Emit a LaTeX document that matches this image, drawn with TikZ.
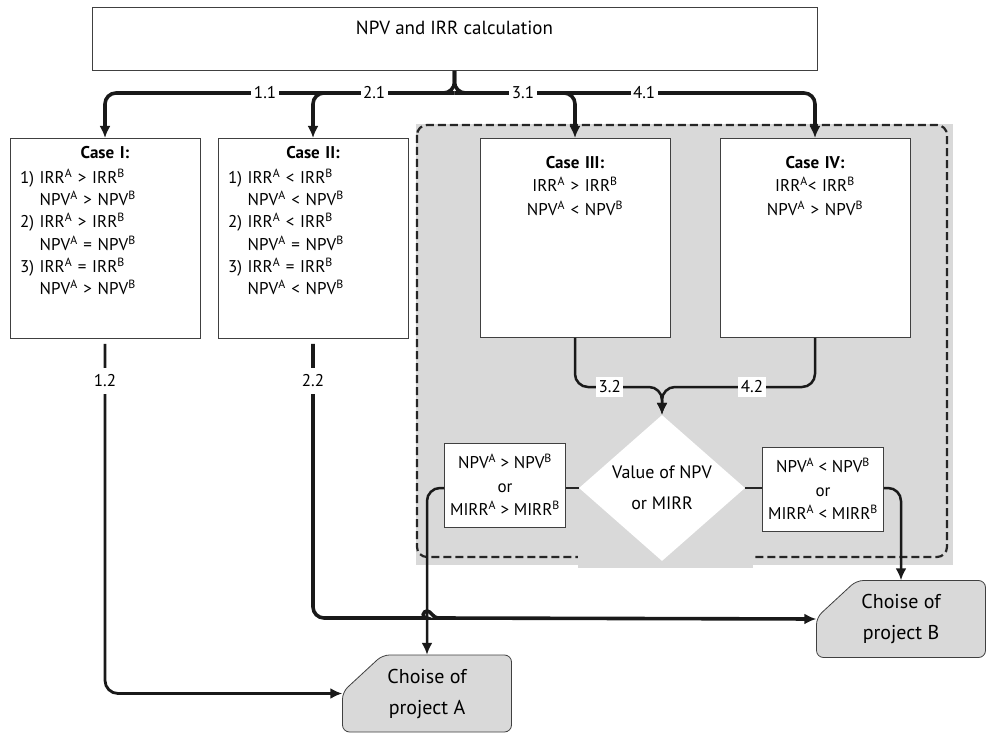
\documentclass[tikz,border=0pt]{standalone}
\usepackage{fontspec}
\setmainfont{PT Sans}
\usetikzlibrary{arrows.meta, shapes.geometric}
\definecolor{areagray}{RGB}{217,217,217}
\newcommand{\supA}{\textsuperscript{A}}
\newcommand{\supB}{\textsuperscript{B}}

\begin{document}
\begin{tikzpicture}[
            x=1pt, y=-1pt,
            every node/.style = {font=\fontsize{17}{22.3}\selectfont},
            box/.style = {rectangle, draw=black!75, line width=0.8pt, fill=white},
            casebox/.style = {box, anchor=north, minimum width=190pt, text width=170pt, inner xsep=10pt, inner ysep=0pt, align=left},
            centerbox/.style = {casebox, align=center, font=\fontsize{17}{23.5}\selectfont},
            outbox/.style = {box, minimum width=121pt, minimum height=84pt, inner xsep=2pt, align=center, font=\fontsize{17}{23.5}\selectfont},
            decision/.style = {diamond, fill=white, minimum width=166pt, minimum height=146pt, inner sep=0pt, align=center, font=\fontsize{18}{31}\selectfont},
            choice/.style = {rectangle, minimum width=169pt, minimum height=77pt, inner sep=0pt, align=center, font=\fontsize{20}{31}\selectfont},
            choiceline/.style = {draw=black!75, line width=0.8pt, fill=areagray, rounded corners=7pt},
            region/.style = {draw=black!85, line width=2.2pt, dash pattern=on 8pt off 4pt, rounded corners=10pt},
            conn/.style = {draw=black!90, line width=3.6pt, rounded corners=11pt},
            thinconn/.style = {draw=black!90, line width=2.5pt, rounded corners=13pt},
            link/.style = {draw=black!85, line width=2pt},
            lbl/.style = {fill=white, sharp corners, inner xsep=2.5pt, inner ysep=4pt},
            arr/.style = {-{Latex[length=12pt, width=11pt]}},
        ]
            \useasboundingbox (0,0) rectangle (986,733);

            % Grey area of cases III and IV
            \fill[areagray] (416,124) rectangle (953,565);
            \draw[region] (417,125) rectangle (947,557);
            \fill[areagray] (578,540) rectangle (753,568);

            % Outlines of the choices
            \filldraw[choiceline] (382.5,655) -- (511.5,655) -- (511.5,732) -- (342.5,732) -- (342.5,692) -- cycle;
            \filldraw[choiceline] (856.5,580.5) -- (985.5,580.5) -- (985.5,657.5) -- (816.5,657.5) -- (816.5,617.5) -- cycle;

            % Calculation
            \node[box, anchor=north, minimum width=725pt, text height=27pt, text depth=36pt, inner ysep=0pt, font=\fontsize{19}{23}\selectfont] (calc) at (454.5,7) {NPV and IRR calculation};

            % Cases
            \node[casebox, text height=20pt, text depth=180pt] (case1) at (105,138) {\makebox[170pt]{\textbf{Case I:}}\\[2.7pt]
                1)\ IRR\supA{} > IRR\supB\\
                \phantom{1)\ }NPV\supA{} > NPV\supB\\
                2)\ IRR\supA{} > IRR\supB\\
                \phantom{1)\ }NPV\supA{} = NPV\supB\\
                3)\ IRR\supA{} = IRR\supB\\
                \phantom{1)\ }NPV\supA{} > NPV\supB};
            \node[casebox, text height=20pt, text depth=180pt] (case2) at (313,138) {\makebox[170pt]{\textbf{Case II:}}\\[2.7pt]
                1)\ IRR\supA{} < IRR\supB\\
                \phantom{1)\ }NPV\supA{} < NPV\supB\\
                2)\ IRR\supA{} < IRR\supB\\
                \phantom{1)\ }NPV\supA{} = NPV\supB\\
                3)\ IRR\supA{} = IRR\supB\\
                \phantom{1)\ }NPV\supA{} < NPV\supB};
            \node[centerbox, text height=30pt, text depth=169pt] (case3) at (575,138) {\textbf{Case III:}\\IRR\supA{} > IRR\supB\\NPV\supA{} < NPV\supB};
            \node[centerbox, text height=30pt, text depth=169pt] (case4) at (815,138) {\textbf{Case IV:}\\IRR\supA< IRR\supB\\NPV\supA{} > NPV\supB};

            % Decision and its outcomes
            \node[decision] (value) at (662,488) {Value of NPV\\or MIRR};
            \node[outbox] (better) at (505,485) {NPV\supA{} > NPV\supB\\or\\MIRR\supA{} > MIRR\supB};
            \node[outbox] (worse) at (823,489) {NPV\supA{} < NPV\supB\\or\\MIRR\supA{} < MIRR\supB};

            % Choices
            \node[choice] (projA) at (427,693.5) {Choise of\\project A};
            \node[choice] (projB) at (901,619) {Choise of\\project B};

            % Bus from the calculation
            \coordinate (bus) at (454.5,93);
            \draw[conn, arr] (calc.south) -- (bus) -| node[lbl, pos=0.271] {1.1} (case1.north);
            \draw[conn, arr] (calc.south) -- (bus) -| node[lbl, pos=0.263] {4.1} (case4.north);
            \draw[conn, arr] (bus) -| node[lbl, pos=0.284] {2.1} (case2.north);
            \draw[conn, arr] (bus) -| node[lbl, pos=0.284] {3.1} (case3.north);

            % Cases III and IV into the decision
            \coordinate (merge) at (662,387);
            \draw[thinconn, arr] (case3.south) |- node[lbl, pos=0.70] {3.2} (merge) -- (value.north);
            \draw[thinconn, arr] (case4.south) |- node[lbl, pos=0.706] {4.2} (merge) -- (value.north);

            \draw[link] (value.west) -- (better.east |- value.west);
            \draw[link] (value.east) -- (worse.west |- value.east);
            \draw[thinconn, arr] (better.west |- value.west) -| (projA.north);
            \draw[thinconn, arr] (worse.east |- value.east) -| (projB.north);

            % Cases I and II to the choices
            \draw[thinconn, line width=2.8pt, arr, shorten <=5pt] (case1.south) |- node[lbl, pos=0.059, inner ysep=7pt] {1.2} (projA.west);
            \coordinate (hopL) at (416,618);
            \coordinate (hopR) at (438,618);
            \draw[conn, arr, shorten <=5pt] (case2.south) |- node[lbl, pos=0.075, inner ysep=7pt] {2.2} (hopL)
                [sharp corners] .. controls (421,618) and (423,611) .. (427,611)
                .. controls (431,611) and (433,618) .. (hopR) -- (projB.west);

        \end{tikzpicture}
\end{document}
